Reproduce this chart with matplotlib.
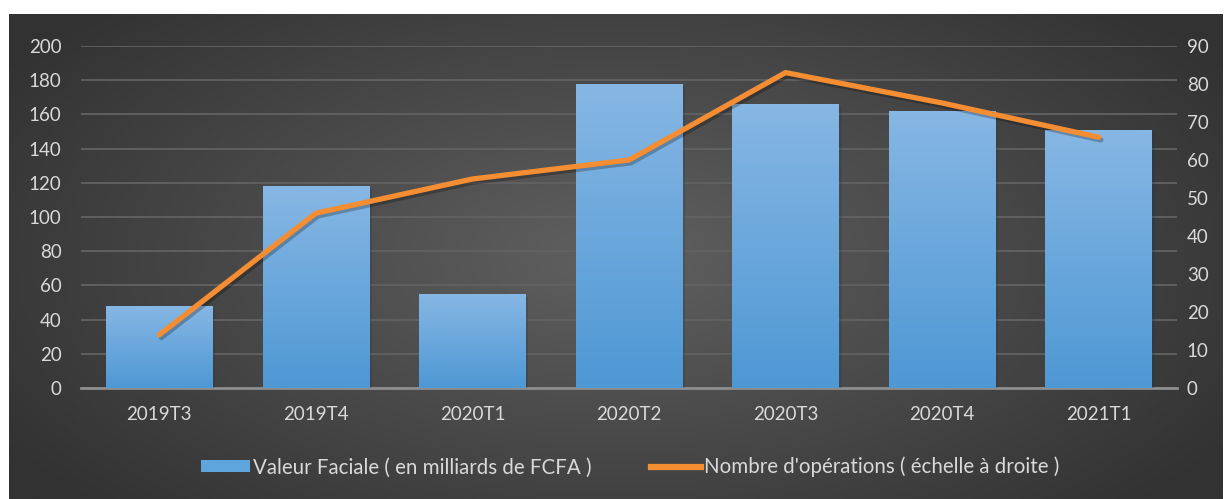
import numpy as np
import matplotlib.pyplot as plt
import matplotlib.patheffects as pe
from matplotlib.colors import LinearSegmentedColormap
from matplotlib.patches import Patch
from matplotlib.lines import Line2D

trimestres = ["2019T3", "2019T4", "2020T1", "2020T2", "2020T3", "2020T4", "2021T1"]
valeur_faciale = [48, 118, 55, 178, 166, 162, 151]   # milliards de FCFA
nb_operations = [14, 46, 55, 60, 83, 75, 66]          # echelle a droite

plt.rcParams["font.family"] = ["Lato", "DejaVu Sans"]

W, H = 1228, 499
txt_col = "#d9d9d9"
bleu = "#5fa5dd"
orange = "#f58d33"

fig = plt.figure(figsize=(W / 100, H / 100), dpi=100)
fig.patch.set_facecolor("white")

# fond gris en degrade (style excel)
bg = fig.add_axes([9 / W, 0, 1214 / W, 485 / H], zorder=-10)
yy, xx = np.mgrid[0:1:300j, 0:1:700j]
d = np.sqrt(((xx - 0.5) / 0.8) ** 2 + ((yy - 0.5) / 1.0) ** 2)
bg.imshow(d, cmap=LinearSegmentedColormap.from_list("bg", ["#5d5d5d", "#323232"]),
          aspect="auto", extent=[0, 1, 0, 1], vmin=0.05, vmax=0.75)
bg.axis("off")

ax = fig.add_axes([81 / W, 111 / H, 1096 / W, 342 / H])
ax.set_facecolor("none")
x = np.arange(len(trimestres))

bars = ax.bar(x, valeur_faciale, width=0.68, color=bleu, zorder=3,
              path_effects=[pe.SimplePatchShadow(offset=(2, -2), alpha=0.22), pe.Normal()])
cmap_bar = LinearSegmentedColormap.from_list("b", ["#4e98d4", "#87b7e4"])
grad = np.linspace(0, 1, 256).reshape(-1, 1)
for b in bars:
    im = ax.imshow(grad, cmap=cmap_bar, origin="lower", aspect="auto", zorder=3.1,
                   extent=[b.get_x(), b.get_x() + b.get_width(), 0, b.get_height()])
    im.set_clip_path(b)

ax.set_xlim(-0.5, len(trimestres) - 0.5)
ax.set_ylim(0, 200)
ax.set_yticks(range(0, 201, 20))
ax.set_xticks(x)
ax.set_xticklabels(trimestres)
ax.yaxis.grid(True, color="#626262", lw=1.3)
ax.set_axisbelow(True)
for s in ["top", "left", "right"]:
    ax.spines[s].set_visible(False)
ax.spines["bottom"].set_color("#8e8e8e")
ax.spines["bottom"].set_linewidth(2)
ax.tick_params(axis="y", length=0, pad=14, labelsize=13.5, labelcolor=txt_col)
ax.tick_params(axis="x", length=0, pad=13, labelsize=13.5, labelcolor=txt_col)

ax2 = ax.twinx()
ax2.plot(x, nb_operations, color=orange, lw=3.8, solid_capstyle="round", solid_joinstyle="round",
         path_effects=[pe.SimpleLineShadow(offset=(1.5, -2), alpha=0.25), pe.Normal()])
ax2.set_ylim(0, 90)
ax2.set_yticks(range(0, 91, 10))
for s in ax2.spines.values():
    s.set_visible(False)
ax2.tick_params(axis="y", length=0, pad=7, labelsize=13.5, labelcolor=txt_col)

handles = [Patch(facecolor=bleu, edgecolor="none"), Line2D([0], [0], color=orange, lw=4.5)]
labels = ["Valeur Faciale ( en milliards de FCFA )", "Nombre d'opérations ( échelle à droite )"]
fig.legend(handles, labels, loc="center", bbox_to_anchor=(0.513, 0.064), ncol=2, frameon=False,
           prop={"size": 14.8}, labelcolor=txt_col, handlelength=2.4, handleheight=0.55,
           handletextpad=0.15, columnspacing=2.9)

fig.savefig("out.png", dpi=100)
